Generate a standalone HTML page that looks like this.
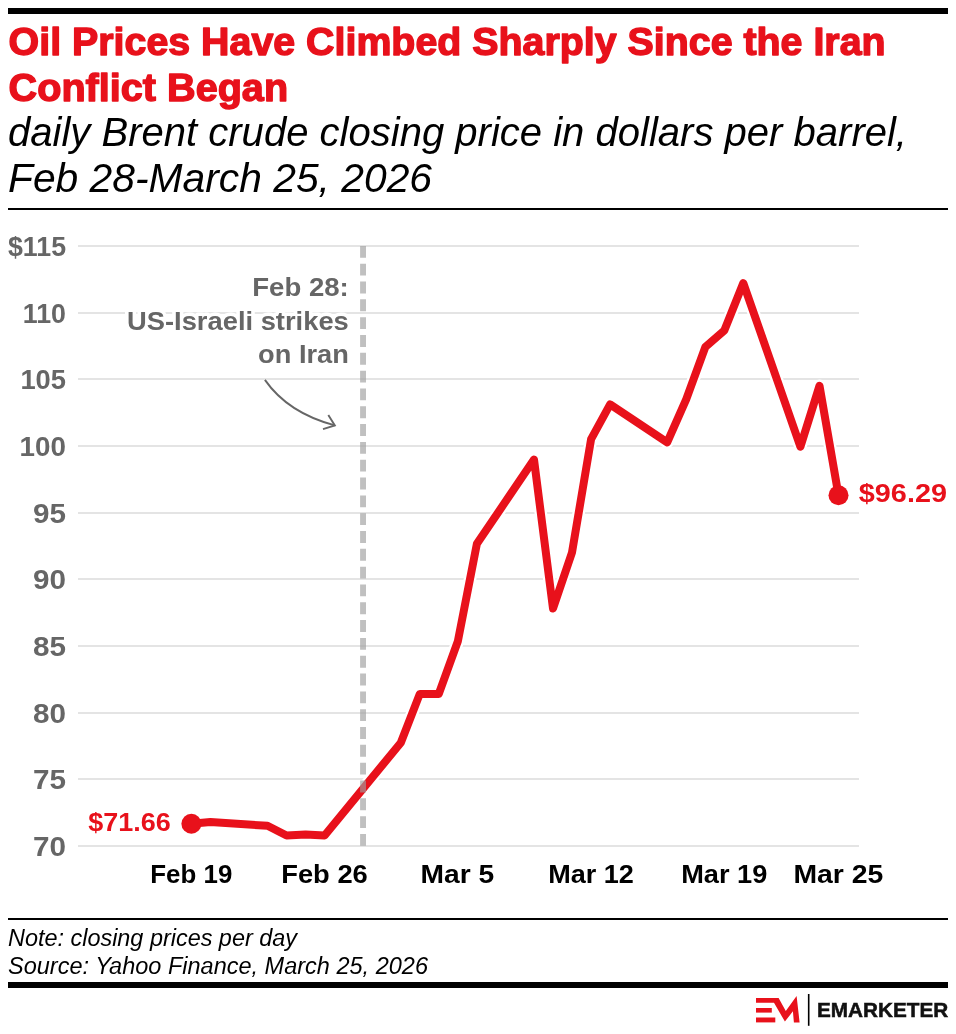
<!DOCTYPE html>
<html lang="en"><head><meta charset="utf-8"><title>Oil Prices Have Climbed Sharply Since the Iran Conflict Began</title>
<style>html,body{margin:0;padding:0;background:#fff}body{width:956px;height:1034px;overflow:hidden}svg{display:block}text{font-family:"Liberation Sans",sans-serif}.b{font-weight:bold}.i{font-style:italic}</style></head><body>
<svg width="956" height="1034" viewBox="0 0 956 1034">
<rect width="956" height="1034" fill="#fff"/>
<rect x="8" y="8" width="940" height="6" fill="#000"/>
<text class="b" x="8.6" y="55.4" font-size="39" fill="#e8111b" stroke="#e8111b" stroke-width="1.4" stroke-linejoin="round" textLength="877" lengthAdjust="spacingAndGlyphs">Oil Prices Have Climbed Sharply Since the Iran</text>
<text class="b" x="8.6" y="101.4" font-size="39" fill="#e8111b" stroke="#e8111b" stroke-width="1.4" stroke-linejoin="round" textLength="279.5" lengthAdjust="spacingAndGlyphs">Conflict Began</text>
<text class="i" x="8" y="146" font-size="40.3" fill="#000" textLength="899" lengthAdjust="spacingAndGlyphs">daily Brent crude closing price in dollars per barrel,</text>
<text class="i" x="8" y="191.8" font-size="40.3" fill="#000" textLength="424" lengthAdjust="spacingAndGlyphs">Feb 28-March 25, 2026</text>
<rect x="8" y="208" width="940" height="2" fill="#000"/>
<rect x="78" y="245" width="781" height="2" fill="#e4e4e4"/>
<text class="b" x="66" y="256.0" font-size="27" fill="#666666" text-anchor="end" textLength="58" lengthAdjust="spacingAndGlyphs">$115</text>
<rect x="78" y="312" width="781" height="2" fill="#e4e4e4"/>
<text class="b" x="66" y="323.0" font-size="27" fill="#666666" text-anchor="end" textLength="43.2" lengthAdjust="spacingAndGlyphs">110</text>
<rect x="78" y="378" width="781" height="2" fill="#e4e4e4"/>
<text class="b" x="66" y="389.0" font-size="27" fill="#666666" text-anchor="end" textLength="45.6" lengthAdjust="spacingAndGlyphs">105</text>
<rect x="78" y="445" width="781" height="2" fill="#e4e4e4"/>
<text class="b" x="66" y="456.0" font-size="27" fill="#666666" text-anchor="end" textLength="46.4" lengthAdjust="spacingAndGlyphs">100</text>
<rect x="78" y="512" width="781" height="2" fill="#e4e4e4"/>
<text class="b" x="66" y="523.0" font-size="27" fill="#666666" text-anchor="end" textLength="33" lengthAdjust="spacingAndGlyphs">95</text>
<rect x="78" y="578" width="781" height="2" fill="#e4e4e4"/>
<text class="b" x="66" y="589.0" font-size="27" fill="#666666" text-anchor="end" textLength="33" lengthAdjust="spacingAndGlyphs">90</text>
<rect x="78" y="645" width="781" height="2" fill="#e4e4e4"/>
<text class="b" x="66" y="656.0" font-size="27" fill="#666666" text-anchor="end" textLength="33" lengthAdjust="spacingAndGlyphs">85</text>
<rect x="78" y="712" width="781" height="2" fill="#e4e4e4"/>
<text class="b" x="66" y="723.0" font-size="27" fill="#666666" text-anchor="end" textLength="33" lengthAdjust="spacingAndGlyphs">80</text>
<rect x="78" y="778" width="781" height="2" fill="#e4e4e4"/>
<text class="b" x="66" y="789.0" font-size="27" fill="#666666" text-anchor="end" textLength="33" lengthAdjust="spacingAndGlyphs">75</text>
<rect x="78" y="845" width="781" height="2" fill="#e4e4e4"/>
<text class="b" x="66" y="856.0" font-size="27" fill="#666666" text-anchor="end" textLength="33" lengthAdjust="spacingAndGlyphs">70</text>
<text class="b" x="252.2" y="295.8" font-size="26.6" fill="#666666" textLength="96.6" lengthAdjust="spacingAndGlyphs" stroke="#fff" stroke-width="7" stroke-linejoin="round" paint-order="stroke">Feb 28:</text>
<text class="b" x="127.0" y="329.6" font-size="26.6" fill="#666666" textLength="221.8" lengthAdjust="spacingAndGlyphs" stroke="#fff" stroke-width="7" stroke-linejoin="round" paint-order="stroke">US-Israeli strikes</text>
<text class="b" x="258.1" y="363.3" font-size="26.6" fill="#666666" textLength="90.7" lengthAdjust="spacingAndGlyphs" stroke="#fff" stroke-width="7" stroke-linejoin="round" paint-order="stroke">on Iran</text>
<path d="M264.9,379.9 Q288,413 334.85,425.4" fill="none" stroke="#666666" stroke-width="1.9"/>
<path d="M328.3,415 L334.85,425.4 L323,429.1" fill="none" stroke="#666666" stroke-width="1.9" stroke-linecap="butt" stroke-linejoin="miter"/>
<polyline points="191.4,823.7 210.4,822.1 267.5,825.8 286.6,835.5 305.6,834.5 324.6,835.5 400.8,742.7 419.8,693.9 438.8,693.9 457.9,641.1 476.9,543.8 534.0,459.6 553.0,608.5 572.0,552.5 591.1,439.2 610.1,404.4 667.2,442.4 686.2,399.4 705.3,347.1 724.3,330.6 743.3,283.1 800.4,446.7 819.5,385.8 838.5,495.2" fill="none" stroke="#fff" stroke-width="12.5" stroke-linejoin="round" stroke-linecap="round"/>
<polyline points="191.4,823.7 210.4,822.1 267.5,825.8 286.6,835.5 305.6,834.5 324.6,835.5 400.8,742.7 419.8,693.9 438.8,693.9 457.9,641.1 476.9,543.8 534.0,459.6 553.0,608.5 572.0,552.5 591.1,439.2 610.1,404.4 667.2,442.4 686.2,399.4 705.3,347.1 724.3,330.6 743.3,283.1 800.4,446.7 819.5,385.8 838.5,495.2" fill="none" stroke="#e8111b" stroke-width="8" stroke-linejoin="round" stroke-linecap="round"/>
<line x1="363.05" y1="245.9" x2="363.05" y2="846.8" stroke="#9e9e9e" stroke-opacity="0.65" stroke-width="5.9" stroke-dasharray="11.88 5.94"/>
<circle cx="191.4" cy="823.7" r="10" fill="#e8111b"/>
<circle cx="838.5" cy="495.2" r="10" fill="#e8111b"/>
<text class="b" x="88.3" y="830.8" font-size="26.5" fill="#e8111b" textLength="82.5" lengthAdjust="spacingAndGlyphs">$71.66</text>
<text class="b" x="858.8" y="501.7" font-size="26.5" fill="#e8111b" textLength="88.2" lengthAdjust="spacingAndGlyphs">$96.29</text>
<text class="b" x="150.3" y="882.7" font-size="26.5" fill="#000" textLength="82.0" lengthAdjust="spacingAndGlyphs">Feb 19</text>
<text class="b" x="281.2" y="882.7" font-size="26.5" fill="#000" textLength="86.6" lengthAdjust="spacingAndGlyphs">Feb 26</text>
<text class="b" x="420.5" y="882.7" font-size="26.5" fill="#000" textLength="73.7" lengthAdjust="spacingAndGlyphs">Mar 5</text>
<text class="b" x="548.2" y="882.7" font-size="26.5" fill="#000" textLength="85.7" lengthAdjust="spacingAndGlyphs">Mar 12</text>
<text class="b" x="681.2" y="882.7" font-size="26.5" fill="#000" textLength="86.2" lengthAdjust="spacingAndGlyphs">Mar 19</text>
<text class="b" x="793.4" y="882.7" font-size="26.5" fill="#000" textLength="89.9" lengthAdjust="spacingAndGlyphs">Mar 25</text>
<rect x="8" y="918" width="940" height="2" fill="#000"/>
<text class="i" x="8" y="946" font-size="23.5" fill="#000" textLength="289" lengthAdjust="spacingAndGlyphs">Note: closing prices per day</text>
<text class="i" x="8" y="974.2" font-size="23.5" fill="#000" textLength="420" lengthAdjust="spacingAndGlyphs">Source: Yahoo Finance, March 25, 2026</text>
<rect x="8" y="982" width="940" height="6" fill="#000"/>
<g fill="#e8111b"><path d="M756,998 H778.6 L785.8,1010.9 L796.6,996 L799.6,1022.4 H793.9 L792.9,1011.3 L784.9,1021.6 L774,1002.7 H756 Z"/><rect x="756" y="1008" width="15.8" height="4.6"/><rect x="756" y="1017.5" width="19.3" height="4.9"/></g>
<rect x="807.9" y="994" width="1.6" height="31.8" fill="#000"/>
<text class="b" x="816.9" y="1016.5" font-size="19.8" fill="#111" stroke="#111" stroke-width="0.5" textLength="131.3" lengthAdjust="spacingAndGlyphs">EMARKETER</text>
</svg></body></html>
